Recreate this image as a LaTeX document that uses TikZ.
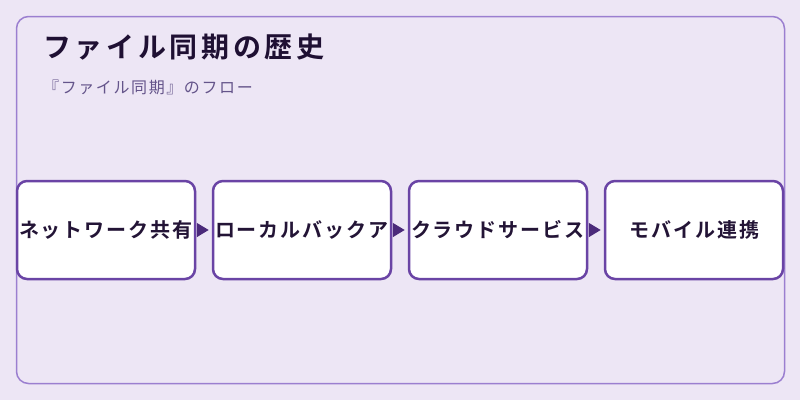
\documentclass[tikz,border=0pt]{standalone}
\usepackage{fontspec}
\setmainfont{Noto Sans CJK JP}
\newfontfamily\jpbox[LetterSpace=10]{Noto Sans CJK JP Bold}
\newfontfamily\jptitle[LetterSpace=13]{Noto Sans CJK JP Bold}
\newfontfamily\jpreg[LetterSpace=10]{Noto Sans CJK JP}
\usetikzlibrary{arrows.meta}
\definecolor{bgc}{HTML}{EDE6F5}
\definecolor{framec}{HTML}{9B7FD0}
\definecolor{boxc}{HTML}{6A44A5}
\definecolor{arrc}{HTML}{4B2A7A}
\definecolor{titc}{HTML}{1F1033}
\definecolor{subc}{HTML}{64548A}
\definecolor{txtc}{HTML}{231436}
\tikzset{
  stepbox/.style={draw=boxc, line width=2.5pt, fill=white, rounded corners=10pt,
    text width=178pt, align=center, minimum height=98pt, inner sep=0pt,
    font=\jpbox\fontsize{20}{22}\selectfont, text=txtc},
  flowarrow/.style={draw=arrc, fill=arrc, line width=1.5pt,
    -{Triangle[length=12pt,width=14pt]}, shorten >=3pt, shorten <=3pt}
}
\begin{document}
\begin{tikzpicture}[x=1pt,y=-1pt]
\useasboundingbox[fill=bgc] (0,0) rectangle (800,400);
\draw[framec, line width=1.5pt, rounded corners=12pt] (16.5,16.5) rectangle (784.5,383.5);
\node[anchor=west, inner sep=0pt, text=titc, font=\jptitle\fontsize{28}{30}\selectfont] (title) at (43,47.5) {ファイル同期の歴史};
\node[anchor=west, inner sep=0pt, text=subc, font=\jpreg\fontsize{16}{18}\selectfont] (sub) at (43,87) {『ファイル同期』のフロー};
\node[stepbox] (b1) at (106,230) {ネットワーク共有};
\node[stepbox] (b2) at (302,230) {ローカルバックア};
\node[stepbox] (b3) at (498,230) {クラウドサービス};
\node[stepbox] (b4) at (694,230) {モバイル連携};
\draw[flowarrow] (b1.east) -- (b2.west);
\draw[flowarrow] (b2.east) -- (b3.west);
\draw[flowarrow] (b3.east) -- (b4.west);
\end{tikzpicture}
\end{document}
